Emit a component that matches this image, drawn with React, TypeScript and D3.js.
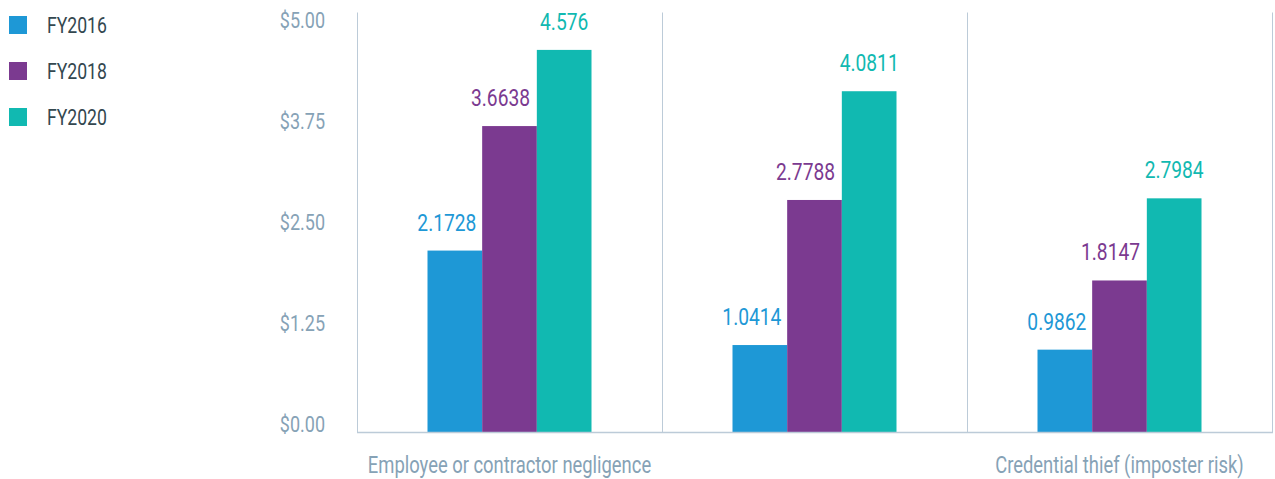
import React from "react";
import * as d3 from "d3";

const categories = [
  "Employee or contractor negligence",
  "Criminal or malicious insider",
  "Credential thief (imposter risk)",
];
// the middle category name is not printed in the source chart
const categoryLabels = ["Employee or contractor negligence", "", "Credential thief (imposter risk)"];
const seriesNames = ["FY2016", "FY2018", "FY2020"];
const fy2016 = [2.1728, 1.0414, 0.9862];
const fy2018 = [3.6638, 2.7788, 1.8147];
const fy2020 = [4.576, 4.0811, 2.7984];
const yTicks = [0, 1.25, 2.5, 3.75, 5];

const colors = ["#1e98d6", "#7b3a90", "#11b9b1"];
const labelShift = [-8, -9, 0];
const FONT = "Roboto, 'Liberation Sans', sans-serif";
const W = 1275;
const H = 479;

// Roboto squeezed horizontally to look like the condensed face of the original
function CText({ x, y, size, fill, anchor = "start", children }: any) {
  return (
    <text
      transform={`translate(${x},${y}) scale(0.8,1)`}
      fontSize={size}
      fill={fill}
      textAnchor={anchor}
    >
      {children}
    </text>
  );
}

export default function App() {
  const series = [fy2016, fy2018, fy2020];

  const x = d3.scaleBand().domain(categories).range([357, 1272]);
  const inner = d3.scaleBand().domain(seriesNames).range([0, 164]).padding(0);
  const innerOffset = (x.bandwidth() - 164) / 2;
  const y = d3.scaleLinear().domain([0, 5]).range([432, 14.5]);
  // tick labels sit on their own evenly spaced rows
  const yLabel = d3.scaleLinear().domain([0, 5]).range([424, 20]);
  const axisColor = "#bccbd8";
  const tickColor = "#86a2b6";

  return (
    <svg
      width={W}
      height={H}
      style={{ position: "absolute", left: 0, top: 0, background: "#fff" }}
      fontFamily={FONT}
    >
      {/* legend */}
      {seriesNames.map((s, i) => (
        <g key={s} transform={`translate(9,${16 + i * 46})`}>
          <rect width={18} height={18} fill={colors[i]} />
          <CText x={38} y={17} size={22} fill="#33474f">
            {s}
          </CText>
        </g>
      ))}

      {/* y tick labels */}
      {yTicks.map((t) => (
        <CText key={t} x={325} y={yLabel(t) + 8} size={22.5} fill={tickColor} anchor="end">
          {d3.format("$.2f")(t)}
        </CText>
      ))}

      {/* axis & separators */}
      {[...categories.map((c) => x(c) as number), 1272].map((xv, i) => (
        <line
          key={i}
          x1={xv + 0.5}
          x2={xv + 0.5}
          y1={y(5) - 2}
          y2={y(0)}
          stroke={axisColor}
          strokeWidth={1}
        />
      ))}

      {/* bars */}
      {categories.map((c, ci) => (
        <g key={c} transform={`translate(${(x(c) as number) + innerOffset},0)`}>
          {seriesNames.map((s, si) => {
            const v = series[si][ci];
            const bx = inner(s) as number;
            return (
              <g key={s}>
                <rect
                  x={bx}
                  y={y(v)}
                  width={inner.bandwidth()}
                  height={y(0) - y(v)}
                  fill={colors[si]}
                />
                <CText
                  x={bx + inner.bandwidth() / 2 + labelShift[si]}
                  y={y(v) - 20}
                  anchor="middle"
                  size={24}
                  fill={colors[si]}
                >
                  {v}
                </CText>
              </g>
            );
          })}
        </g>
      ))}

      <line
        x1={357}
        x2={1273}
        y1={y(0) + 0.5}
        y2={y(0) + 0.5}
        stroke={axisColor}
        strokeWidth={1.5}
      />

      {/* category labels */}
      {categories.map((c, i) => (
        <CText
          key={c}
          x={(x(c) as number) + x.bandwidth() / 2}
          y={473}
          anchor="middle"
          size={23}
          fill={tickColor}
        >
          {categoryLabels[i]}
        </CText>
      ))}
    </svg>
  );
}
